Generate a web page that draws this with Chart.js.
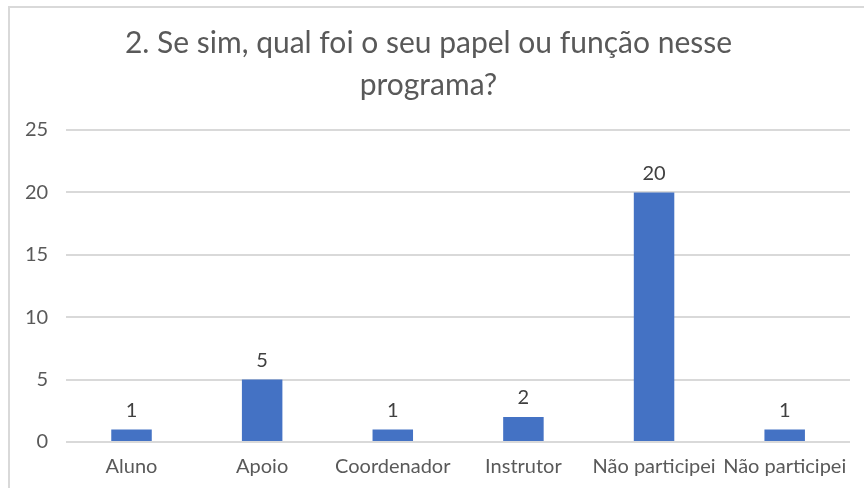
<!DOCTYPE html>
<html>
<head>
<meta charset="utf-8">
<script src="https://cdn.jsdelivr.net/npm/chart.js@4/dist/chart.umd.min.js"></script>
<style>
html,body{margin:0;padding:0;background:#fff;}
#wrap{position:absolute;left:0;top:0;width:864px;height:488px;}
</style>
</head>
<body>
<div id="wrap"><canvas id="c" width="864" height="488"></canvas></div>
<script>
const categories = ["Aluno", "Apoio", "Coordenador", "Instrutor", "Não participei", "Não participei"];
const values = [1, 5, 1, 2, 20, 1];
const titleLines = ["2. Se sim, qual foi o seu papel ou função nesse", "programa?"];
const yTicks = [0, 5, 10, 15, 20, 25];

const FONT = "Lato, 'Open Sans', sans-serif";
const TXT = "#595959";

const frame = {
  id: 'frame',
  beforeDraw(chart) {
    const ctx = chart.ctx;
    ctx.save();
    ctx.fillStyle = '#fff';
    ctx.fillRect(0, 0, chart.width, chart.height);
    ctx.strokeStyle = '#d9d9d9';
    ctx.lineWidth = 2;
    ctx.beginPath();
    ctx.moveTo(9, 488);
    ctx.lineTo(9, 7);
    ctx.lineTo(864, 7);
    ctx.stroke();
    ctx.restore();
  }
};

const labels = {
  id: 'labels',
  afterDatasetsDraw(chart) {
    const ctx = chart.ctx;
    const meta = chart.getDatasetMeta(0);
    ctx.save();
    ctx.font = "20px " + FONT;
    ctx.fillStyle = "#404040";
    ctx.textAlign = 'center';
    ctx.textBaseline = 'bottom';
    meta.data.forEach((bar, i) => {
      ctx.fillText(String(values[i]), bar.x, bar.y - 9);
    });
    ctx.restore();
  }
};

new Chart(document.getElementById('c'), {
  type: 'bar',
  data: {
    labels: categories,
    datasets: [{
      data: values,
      backgroundColor: '#4472C4',
      borderWidth: 0,
      barPercentage: 0.62,
      categoryPercentage: 0.5
    }]
  },
  options: {
    responsive: false,
    animation: false,
    layout: { padding: { left: 7, right: 14, top: 0, bottom: 0 } },
    plugins: {
      legend: { display: false },
      tooltip: { enabled: false },
      title: {
        display: true,
        text: titleLines,
        color: TXT,
        font: { family: FONT, size: 30, weight: 'normal', lineHeight: 1.4 },
        padding: { top: 22, bottom: 24 }
      }
    },
    scales: {
      x: {
        grid: { display: false },
        border: { display: false },
        afterFit(scale) { scale.height = 46; },
        ticks: { color: TXT, font: { family: FONT, size: 20 }, padding: 5, maxRotation: 0, autoSkip: false }
      },
      y: {
        min: 0, max: 25,
        afterBuildTicks(scale) { scale.ticks = yTicks.map(v => ({ value: v })); },
        grid: { color: '#d9d9d9', lineWidth: 2, drawTicks: false },
        border: { display: false },
        ticks: { color: TXT, font: { family: FONT, size: 20 }, padding: 18 }
      }
    }
  },
  plugins: [frame, labels]
});
</script>
</body>
</html>
